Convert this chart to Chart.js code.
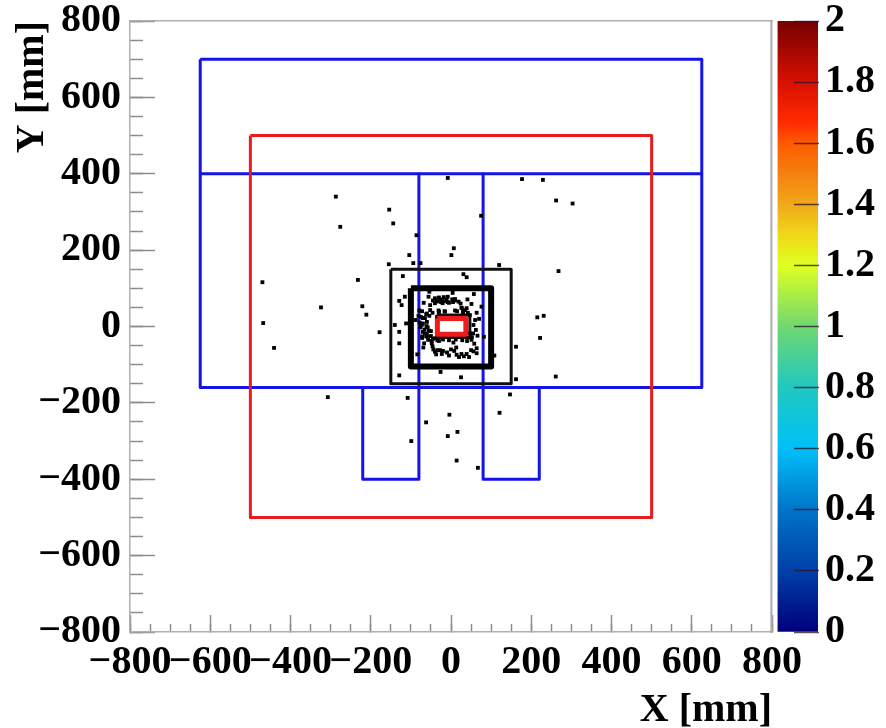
<!DOCTYPE html>
<html>
<head>
<meta charset="utf-8">
<title>X-Y hit map</title>
<script src="https://cdn.jsdelivr.net/npm/chart.js@4/dist/chart.umd.min.js"></script>
<style>
    html, body { margin: 0; padding: 0; background: #fff; }
    #wrap { position: relative; width: 886px; height: 728px; overflow: hidden; }
    canvas { position: absolute; top: 0; }
    #map { left: 0; }
    #bar { left: 770px; }
</style>
</head>
<body>
<div id="wrap">
    <canvas id="map" width="886" height="728"></canvas>
    <canvas id="bar" width="116" height="728"></canvas>
</div>
<script>
// hit positions in mm
const hitX = [-8, 177, 229, -287, -154, 262, 303, -144, -276, 75, -86, 7, 1, -104, -94, -76, -155, 120, 268, -120, 31, 39, -232, -470,
    -468, -441, -324, -221, -211, -307, -108, -62, -4, 121, 147, 162, 261, 16, -8, -99, 14, 67, -129, -26, 25,
    215, 231, 222, 162, -178, -140, -129, -129, 108, -84, -129, -123, -115, -112,
    -54, 4, 57, -56, -40, -27, -11, 3, 19, 41, -40, -52, -21, -68, 51, 26, 35, 10, -15, -31, -52, -79, 64, 47, 76,
    -81, -65, -54, -75, 60, 56, 62, -88, -73, -61, -55, -65, -50, -40, -57, -67, -69, -48, 51, 47,
    -44, -27, 0, 13, 64, 56, -37, -23, -5, 14, 26, 39, 64, 82,
    -34, -22, -8, 10, 24, -46, -60, 70, -30, -16, 30, -72, -62, 66, -48, 6,
    -45, -35, -25, -15, -5, 5, -30, -18, -8, 10, 27, 39, 15, 30, 42,
    -72, -62, -70, -60, -70, -78, -58, -66, -76, -70, -60, -72, -58, -50, -45, -34,
    -30, -20, -5, 12, 28, 40, 52, 55, 58, -46, -40, -34, -20, -10, 8, 20, 32, 45, 50];
const hitY = [389, 386, 384, 340, 306, 330, 322, 270, 261, 290, 239, 205, 187, 187, 166, 166, 163, 161, 145, 132, 137, 129, 122, 116,
    9, -56, 50, 53, 31, -185, -187, -251, -231, -226, -178, -53, -131, -276, -287, -300, -351, -370, -128, -119, -133,
    24, 28, -30, -138, -15, 4, -14, -44, -76, -73, 67, 56, 78, 8,
    91, 88, 85, 78, 74, 71, 71, 71, 65, 71, 61, 56, 61, 62, 59, 49, 43, 42, 39, 42, 43, 42, 36, 30, 52,
    28, 22, 28, 25, 17, 4, -9, 17, 4, 1, -11, -18, -25, -31, -35, -44, -55, -44, -35, -18,
    -60, -62, -60, -55, -57, -65, -73, -72, -76, -74, -72, -72, -70, -27,
    66, 68, 64, 68, 60, 36, 34, 20, 38, 40, 38, -30, -26, -24, -38, -42,
    68, 66, 64, 66, 62, 64, 76, 77, 78, 72, 48, 48, 40, 38, 36,
    40, 32, 22, 12, 8, 10, -2, -8, -2, -14, -20, -26, -28, -12, -32, -36,
    -38, -34, -36, -34, -36, -38, -28, -18, -45, -52, -66, -62, -64, -68, -64, -80, -78, -80, -62];

// detector outlines in mm
const blueFrameX = [-625, 625, 625, -625, -625];
const blueFrameY = [700, 700, -160, -160, 700];
const blueBarX = [-625, 625];
const blueBarY = [400, 400];
const blueLeftX = [-80, -80, -220, -220];
const blueLeftY = [400, -400, -400, -160];
const blueRightX = [80, 80, 220, 220];
const blueRightY = [400, -400, -400, -160];
const redFrameX = [-500, 500, 500, -500, -500];
const redFrameY = [500, 500, -500, -500, 500];
const thinBoxX = [-150, 150, 150, -150, -150];
const thinBoxY = [150, 150, -150, -150, 150];
const thickBoxX = [-100, 100, 100, -100, -100];
const thickBoxY = [100, 100, -105, -105, 100];
const coreBlackX = [-36, 47, 47, -36, -36];
const coreBlackY = [30, 30, -29, -29, 30];
const coreRedX = [-34, 37, 37, -34, -34];
const coreRedY = [21, 21, -20, -20, 21];

// colour bar: z value and colour
const paletteZ = [0, 0.2, 0.4, 0.6, 0.8, 1, 1.2, 1.3, 1.4, 1.5, 1.6, 1.67, 1.8, 2];
const paletteColors = ["#00007c", "#0040a8", "#0074c8", "#00c0f8", "#20c8c0", "#70d870", "#e0ff20", "#f0d818", "#f0a818", "#f58010", "#ff5a00", "#ff2a00", "#d81000", "#760000"];

const serif = "'Liberation Serif', 'Times New Roman', serif";
const labelFont = { family: serif, size: 40, weight: "bold" };
const frameColor = "#b0b0b0";
const tickColor = "#8c8c8c";

function toPoints(xs, ys) {
    return xs.map((x, i) => ({ x: x, y: ys[i] }));
}

function outline(xs, ys, color, width) {
    return {
        data: toPoints(xs, ys),
        showLine: true,
        borderColor: color,
        borderWidth: width,
        borderJoinStyle: "round",
        pointRadius: 0,
        tension: 0,
        fill: false
    };
}

function minus(value) {
    return String(value).replace("-", "\u2212");
}

// label half heights would otherwise push the plot area in
function fixHeight(scale, height) {
    scale.height = height;
    scale.paddingTop = 0;
    scale.paddingBottom = 0;
}

function fixWidth(scale, width) {
    scale.width = width;
    scale.paddingTop = 0;
    scale.paddingBottom = 0;
}

// extra axis that sits on the plot area: only tick marks or only a border line
function overlayAxis(axis, position, step, tickLength, showBorder) {
    return {
        type: "linear",
        axis: axis,
        position: position,
        min: -800,
        max: 800,
        ticks: { display: false, stepSize: step, autoSkip: false },
        grid: {
            drawOnChartArea: false,
            drawTicks: tickLength !== 0,
            tickLength: tickLength,
            tickColor: tickColor,
            tickWidth: 1.5
        },
        border: { display: showBorder, color: frameColor, width: 1.5 }
    };
}

function createMap() {
    new Chart(document.getElementById("map").getContext("2d"), {
        type: "scatter",
        data: {
            // first dataset ends up on top
            datasets: [
                outline(coreRedX, coreRedY, "#ee1c1c", 5),
                {
                    data: toPoints(hitX, hitY),
                    backgroundColor: "#000",
                    borderWidth: 0,
                    pointStyle: "rect",
                    pointRadius: 2.7
                },
                outline(coreBlackX, coreBlackY, "#111", 3),
                outline(thickBoxX, thickBoxY, "#000", 6),
                outline(thinBoxX, thinBoxY, "#111", 3),
                outline(redFrameX, redFrameY, "#e81c1c", 3),
                outline(blueLeftX, blueLeftY, "#1414e6", 3),
                outline(blueRightX, blueRightY, "#1414e6", 3),
                outline(blueBarX, blueBarY, "#1414e6", 3),
                outline(blueFrameX, blueFrameY, "#1414e6", 3)
            ]
        },
        options: {
            responsive: false,
            animation: false,
            layout: { padding: { top: 21, right: 114 } },
            plugins: { legend: { display: false }, tooltip: { enabled: false } },
            scales: {
                x: {
                    type: "linear",
                    position: "bottom",
                    min: -800,
                    max: 800,
                    afterFit: scale => fixHeight(scale, 96),
                    title: {
                        display: true,
                        text: "X [mm]",
                        align: "end",
                        color: "#000",
                        font: labelFont,
                        padding: { top: 0, bottom: -7 }
                    },
                    ticks: {
                        stepSize: 200,
                        autoSkip: false,
                        maxRotation: 0,
                        padding: 24,
                        color: "#000",
                        font: labelFont,
                        callback: minus
                    },
                    grid: { drawOnChartArea: false, tickLength: -17, tickColor: tickColor, tickWidth: 1.5 },
                    border: { color: frameColor, width: 1.5 }
                },
                y: {
                    type: "linear",
                    position: "left",
                    min: -800,
                    max: 800,
                    afterFit: scale => fixWidth(scale, 130),
                    title: {
                        display: true,
                        text: "Y [mm]",
                        align: "end",
                        color: "#000",
                        font: labelFont,
                        padding: { top: 9, bottom: 0 }
                    },
                    ticks: {
                        stepSize: 200,
                        autoSkip: false,
                        padding: 34,
                        color: "#000",
                        font: labelFont,
                        callback: minus
                    },
                    grid: { drawOnChartArea: false, tickLength: -25, tickColor: tickColor, tickWidth: 1.5 },
                    border: { color: frameColor, width: 1.5 }
                },
                xMinor: overlayAxis("x", { y: -800 }, 50, -8, false),
                yMinor: overlayAxis("y", { x: -800 }, 50, -13, false),
                xTop: overlayAxis("x", { y: 800 }, 800, 0, true),
                yRight: overlayAxis("y", { x: 800 }, 800, 0, true)
            }
        }
    });
}

function barGradient(context) {
    const chart = context.chart;
    const area = chart.chartArea;
    if (!area) {
        return paletteColors[0];
    }
    const gradient = chart.ctx.createLinearGradient(0, area.bottom, 0, area.top);
    paletteZ.forEach((z, i) => gradient.addColorStop(z / 2, paletteColors[i]));
    return gradient;
}

function createColorBar() {
    new Chart(document.getElementById("bar").getContext("2d"), {
        type: "bar",
        data: {
            labels: ["z"],
            datasets: [{
                data: [[0, 2]],
                backgroundColor: barGradient,
                borderWidth: 0,
                barPercentage: 1,
                categoryPercentage: 1
            }]
        },
        options: {
            responsive: false,
            animation: false,
            layout: { padding: { top: 21, bottom: 96, left: 7.5 } },
            plugins: { legend: { display: false }, tooltip: { enabled: false } },
            scales: {
                x: { display: false },
                y: {
                    position: "right",
                    min: 0,
                    max: 2,
                    afterFit: scale => fixWidth(scale, 68),
                    ticks: {
                        stepSize: 0.2,
                        autoSkip: false,
                        padding: 31,
                        color: "#000",
                        font: labelFont,
                        callback: value => String(Number(value.toFixed(1)))
                    },
                    grid: { z: 1, drawOnChartArea: false, tickLength: -24, tickColor: "rgba(40,20,40,0.75)", tickWidth: 1.5 },
                    border: { color: "rgba(60,60,60,0.55)", width: 1 }
                }
            }
        }
    });
}

createMap();
createColorBar();
</script>
</body>
</html>
